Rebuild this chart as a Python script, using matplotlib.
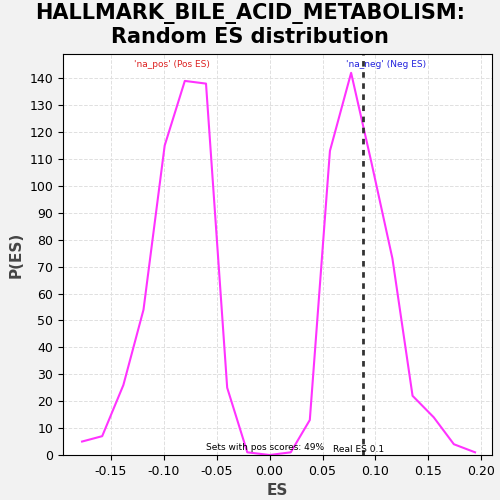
import matplotlib
matplotlib.use("Agg")
from matplotlib import pyplot as plt
import numpy as np

es = [-0.177, -0.158, -0.138, -0.119, -0.099, -0.080, -0.060, -0.040, -0.021, 0.0,
      0.020, 0.038, 0.057, 0.077, 0.096, 0.116, 0.135, 0.155, 0.174, 0.194]
pes = [5, 7, 26, 54, 115, 139, 138, 25, 1, 0, 1, 13, 113, 142, 109, 73, 22, 14, 4, 1]
real_es = 0.0886

fig = plt.figure(figsize=(5, 5), dpi=100, facecolor='#f2f2f2')
ax = fig.add_axes([0.126, 0.09, 0.858, 0.802])
ax.plot(es, pes, color='#ff33ff', lw=1.5)
ax.axvline(real_es, color='#333333', ls=(0, (2, 2)), lw=2)
ax.set_xlim(-0.195, 0.21)
ax.set_ylim(0, 149)
ax.set_yticks(np.arange(0, 141, 10))
ax.set_xticks(np.arange(-0.15, 0.201, 0.05))
ax.set_xticklabels(['-0.15', '-0.10', '-0.05', '0.00', '0.05', '0.10', '0.15', '0.20'])
ax.tick_params(labelsize=9)
ax.grid(True, ls='--', color='#e0e0e0', lw=0.7)
ax.set_xlabel('ES', fontsize=11, fontweight='bold', color='#444444')
ax.set_ylabel('P(ES)', fontsize=11, fontweight='bold', color='#444444')
fig.suptitle('HALLMARK_BILE_ACID_METABOLISM:\nRandom ES distribution', fontsize=15, fontweight='bold', y=0.995)
ax.text(-0.092, 145, "'na_pos' (Pos ES)", color='#dd2222', fontsize=6.5, ha='center', va='center')
ax.text(0.11, 145, "'na_neg' (Neg ES)", color='#2222dd', fontsize=6.5, ha='center', va='center')
ax.text(-0.06, 1.2, 'Sets with pos scores: 49%', fontsize=6.5, ha='left', va='bottom')
ax.text(0.06, 0.5, 'Real ES 0.1', fontsize=6.5, ha='left', va='bottom')
fig.savefig('out.png')
